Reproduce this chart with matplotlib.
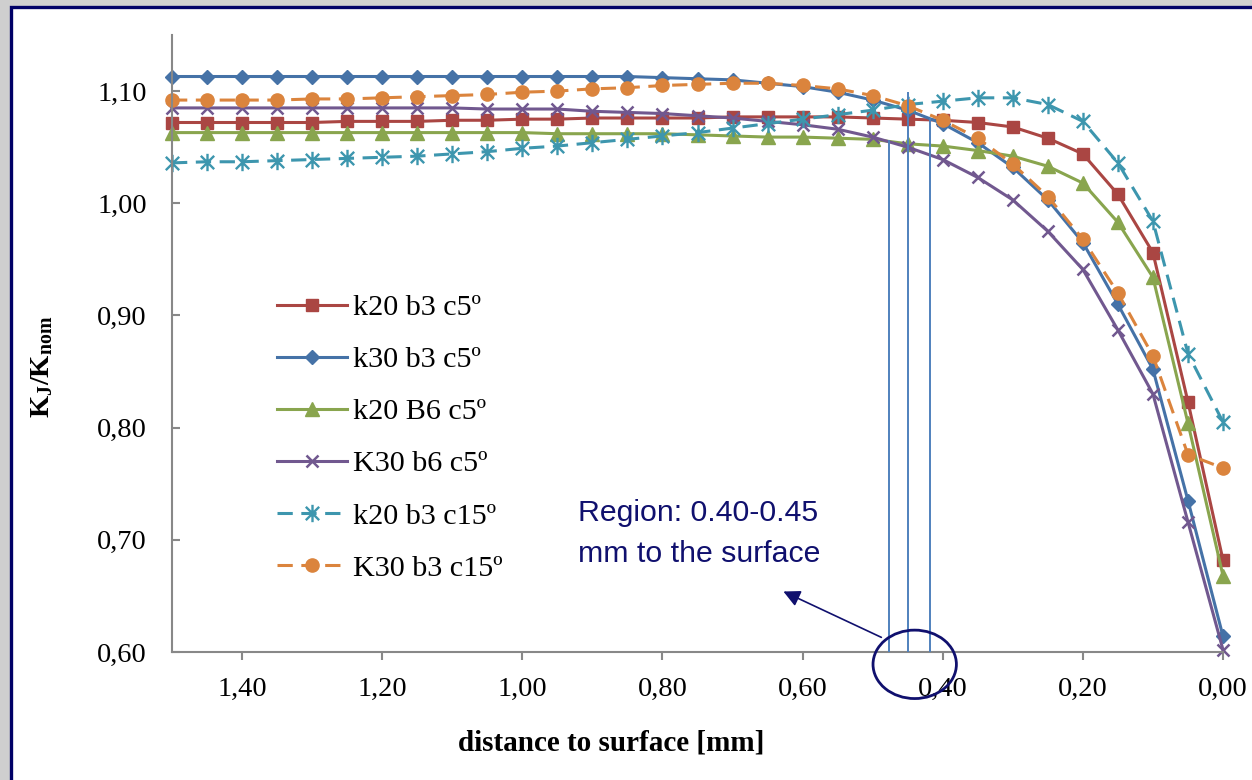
import numpy as np
import matplotlib
matplotlib.use("Agg")
import matplotlib.pyplot as plt
from matplotlib.patches import Rectangle, Ellipse
from matplotlib.path import Path
from matplotlib.ticker import FuncFormatter

plt.rcParams.update({
    'font.family': ['Liberation Serif', 'DejaVu Serif'],
    'mathtext.fontset': 'custom',
    'mathtext.rm': 'Liberation Serif',
    'mathtext.bf': 'Liberation Serif:bold',
})

# distance to surface [mm], 1.50 ... 0.00 in 0.05 steps
dist = [1.50, 1.45, 1.40, 1.35, 1.30, 1.25, 1.20, 1.15, 1.10, 1.05, 1.00,
        0.95, 0.90, 0.85, 0.80, 0.75, 0.70, 0.65, 0.60, 0.55, 0.50,
        0.45, 0.40, 0.35, 0.30, 0.25, 0.20, 0.15, 0.10, 0.05, 0.00]

k20_b3_c5 = [1.072, 1.072, 1.072, 1.072, 1.072, 1.073, 1.073, 1.073, 1.074, 1.074, 1.075,
             1.075, 1.076, 1.076, 1.076, 1.076, 1.077, 1.077, 1.077, 1.077, 1.076,
             1.075, 1.074, 1.072, 1.068, 1.058, 1.044, 1.008, 0.956, 0.823, 0.682]
k30_b3_c5 = [1.113, 1.113, 1.113, 1.113, 1.113, 1.113, 1.113, 1.113, 1.113, 1.113, 1.113,
             1.113, 1.113, 1.113, 1.112, 1.111, 1.110, 1.107, 1.104, 1.099, 1.092,
             1.083, 1.071, 1.054, 1.032, 1.003, 0.965, 0.910, 0.852, 0.735, 0.614]
k20_B6_c5 = [1.063, 1.063, 1.063, 1.063, 1.063, 1.063, 1.063, 1.063, 1.063, 1.063, 1.063,
             1.062, 1.062, 1.062, 1.062, 1.061, 1.060, 1.059, 1.059, 1.058, 1.057,
             1.053, 1.051, 1.047, 1.042, 1.033, 1.018, 0.983, 0.934, 0.804, 0.668]
K30_b6_c5 = [1.085, 1.085, 1.085, 1.085, 1.085, 1.085, 1.085, 1.085, 1.085, 1.084, 1.084,
             1.084, 1.082, 1.081, 1.080, 1.078, 1.076, 1.073, 1.070, 1.066, 1.059,
             1.050, 1.039, 1.023, 1.003, 0.975, 0.941, 0.887, 0.830, 0.716, 0.602]
k20_b3_c15 = [1.036, 1.037, 1.037, 1.038, 1.039, 1.040, 1.041, 1.042, 1.044, 1.046, 1.049,
              1.051, 1.054, 1.057, 1.060, 1.063, 1.067, 1.071, 1.075, 1.079, 1.083,
              1.088, 1.091, 1.094, 1.094, 1.088, 1.073, 1.036, 0.984, 0.866, 0.805]
K30_b3_c15 = [1.092, 1.092, 1.092, 1.092, 1.093, 1.093, 1.094, 1.095, 1.096, 1.097, 1.099,
              1.100, 1.102, 1.103, 1.105, 1.106, 1.107, 1.107, 1.105, 1.102, 1.096,
              1.087, 1.074, 1.058, 1.035, 1.006, 0.968, 0.920, 0.864, 0.776, 0.764]

labels = ['k20 b3 c5º', 'k30 b3 c5º', 'k20 B6 c5º', 'K30 b6 c5º', 'k20 b3 c15º', 'K30 b3 c15º']
yticks = [0.60, 0.70, 0.80, 0.90, 1.00, 1.10]
xticks = [1.40, 1.20, 1.00, 0.80, 0.60, 0.40, 0.20, 0.00]

# vertical marker lines of the region (x, top)
region_x = [0.477, 0.450, 0.418]
region_top = [1.056, 1.099, 1.076]

navy = '#10106e'

# asterisk marker like excel's
star = Path([(-1, -1), (1, 1), (-1, 1), (1, -1), (0, -1.3), (0, 1.3)],
            [Path.MOVETO, Path.LINETO, Path.MOVETO, Path.LINETO, Path.MOVETO, Path.LINETO])

dash = (0, (5, 2.8))
styles = [
    dict(color='#AA4643', marker='s', ms=8.5, ls='-'),
    dict(color='#4572A7', marker='D', ms=7, ls='-'),
    dict(color='#89A54E', marker='^', ms=10.5, ls='-'),
    dict(color='#71588F', marker='x', ms=9, mew=1.8, ls='-'),
    dict(color='#3D96AE', marker=star, ms=12.5, mew=1.7, ls=dash),
    dict(color='#DB843D', marker='o', ms=9.5, ls=dash),
]
series = [k20_b3_c5, k30_b3_c5, k20_B6_c5, K30_b6_c5, k20_b3_c15, K30_b3_c15]

fig = plt.figure(figsize=(12.52, 7.80), dpi=100)
fig.patch.set_facecolor('#cfcfcf')
frame = Rectangle((11/1252, -0.2), 1.3, 1.2 - 7/780, transform=fig.transFigure,
                  facecolor='white', edgecolor='#000066', lw=2.4, zorder=-5)
fig.add_artist(frame)

ax = fig.add_axes([172/1252, 1 - 652/780, (1223-172)/1252, (652-35)/780])
ax.set_facecolor('none')

for y, lab, st in zip(series, labels, styles):
    ax.plot(dist, y, label=lab, lw=2.2, clip_on=False, **st)

ax.set_xlim(1.5, 0.0)
ax.set_ylim(0.6, 1.15)
ax.set_xticks(xticks)
ax.set_yticks(yticks)
fmt = FuncFormatter(lambda v, p: f'{v:.2f}'.replace('.', ','))
ax.xaxis.set_major_formatter(fmt)
ax.yaxis.set_major_formatter(fmt)

for s in ['top', 'right']:
    ax.spines[s].set_visible(False)
for s in ['left', 'bottom']:
    ax.spines[s].set_color('#888888')
    ax.spines[s].set_linewidth(1.5)
ax.tick_params(axis='x', direction='out', length=6, width=1.5, color='#888888', labelsize=20.5, pad=12)
ax.tick_params(axis='y', direction='in', length=6, width=1.5, color='#888888', labelsize=20.5, pad=18)

ax.vlines(region_x, 0.6, region_top, color='#4F81BD', lw=1.4, zorder=5)
ax.add_patch(Ellipse((0.44, 0.589), 0.119, 0.061, fill=False, ec=navy, lw=2, clip_on=False, zorder=6))
ax.annotate('', xy=(0.631, 0.655), xytext=(0.484, 0.612),
            arrowprops=dict(arrowstyle='-|>,head_length=1.0,head_width=0.5', color=navy, lw=1.2),
            annotation_clip=False)
ax.text(0.921, 0.736, 'Region: 0.40-0.45\nmm to the surface', color=navy, fontsize=21.8,
        family=['Liberation Sans', 'DejaVu Sans'], ha='left', va='top', linespacing=1.55)

leg = ax.legend(loc='upper left', bbox_to_anchor=(277/1252, 1 - 294/780), bbox_transform=fig.transFigure,
                frameon=False, fontsize=21.7, handlelength=2.32, handletextpad=0.2,
                labelspacing=0.83, borderpad=0, borderaxespad=0)

fig.text(611/1252, 1 - 743/780, 'distance to surface [mm]', fontsize=21, fontweight='bold',
         ha='center', va='center')
fig.text(42/1252, 1 - 367/780, r'$\mathbf{K_J/K_{nom}}$', fontsize=20.5, rotation=90,
         ha='center', va='center')

fig.savefig('out.png', dpi=100, facecolor=fig.get_facecolor())
